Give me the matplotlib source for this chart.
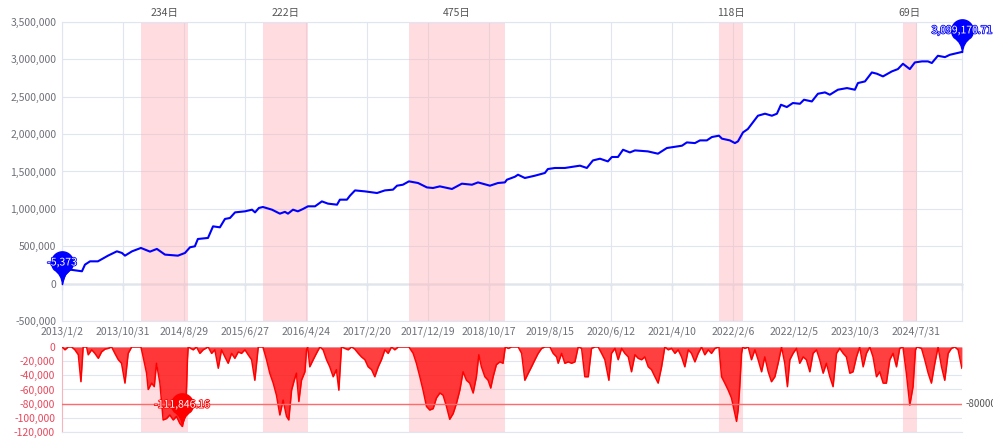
import matplotlib
matplotlib.use('Agg')
import matplotlib.pyplot as plt
import matplotlib.patheffects as pe
import numpy as np
import pandas as pd
from matplotlib.path import Path
from matplotlib.ticker import FuncFormatter

plt.rcParams['font.family'] = ['Noto Sans CJK SC', 'DejaVu Sans']

tick_labels = ['2013/1/2', '2013/10/31', '2014/8/29', '2015/6/27', '2016/4/24',
               '2017/2/20', '2017/12/19', '2018/10/17', '2019/8/15', '2020/6/12',
               '2021/4/10', '2022/2/6', '2022/12/5', '2023/10/3', '2024/7/31']
last_day = 4456

# equity curve (days since 2013/1/2)
equity_day = [0, 15, 40, 99, 114, 139, 178, 228, 272, 297, 312, 347, 391, 436, 470, 510,
              574, 609, 634, 658, 673, 723, 748, 782, 807, 832, 857, 906, 941, 956, 975,
              995, 1040, 1079, 1104, 1119, 1144, 1168, 1193, 1218, 1253, 1287, 1317, 1362,
              1376, 1411, 1426, 1451, 1500, 1560, 1599, 1639, 1659, 1688, 1718, 1763, 1807,
              1837, 1871, 1931, 1980, 2030, 2060, 2119, 2159, 2193, 2203, 2243, 2258, 2292,
              2342, 2391, 2406, 2441, 2490, 2565, 2599, 2629, 2664, 2703, 2723, 2753, 2778,
              2812, 2837, 2901, 2951, 2995, 3025, 3070, 3094, 3134, 3159, 3193, 3218, 3253,
              3268, 3307, 3332, 3347, 3372, 3396, 3421, 3446, 3481, 3515, 3540, 3560, 3589,
              3619, 3654, 3674, 3713, 3743, 3778, 3802, 3842, 3887, 3926, 3941, 3976, 4010,
              4035, 4065, 4109, 4139, 4164, 4198, 4223, 4258, 4288, 4307, 4337, 4372, 4396,
              4456]
equity_value = [-5373, 120000, 187000, 165000, 254000, 298000, 298000, 374000, 432000,
                410000, 374000, 432000, 477000, 428000, 464000, 388000, 374000, 410000,
                486000, 499000, 597000, 611000, 766000, 753000, 865000, 878000, 953000,
                967000, 989000, 953000, 1012000, 1025000, 989000, 936000, 960000, 936000,
                989000, 967000, 998000, 1034000, 1034000, 1100000, 1070000, 1056000,
                1123000, 1123000, 1176000, 1247000, 1234000, 1212000, 1247000, 1257000,
                1310000, 1323000, 1368000, 1346000, 1287000, 1279000, 1301000, 1266000,
                1337000, 1323000, 1354000, 1310000, 1346000, 1354000, 1390000, 1430000,
                1457000, 1413000, 1444000, 1480000, 1533000, 1547000, 1547000, 1578000,
                1547000, 1648000, 1671000, 1635000, 1694000, 1694000, 1791000, 1755000,
                1782000, 1769000, 1738000, 1814000, 1827000, 1845000, 1889000, 1880000,
                1916000, 1916000, 1961000, 1979000, 1939000, 1916000, 1880000, 1903000,
                2023000, 2068000, 2157000, 2246000, 2273000, 2246000, 2273000, 2393000,
                2362000, 2416000, 2406000, 2460000, 2437000, 2540000, 2558000, 2527000,
                2594000, 2616000, 2594000, 2683000, 2705000, 2825000, 2808000, 2772000,
                2839000, 2870000, 2941000, 2870000, 2959000, 2973000, 2973000, 2951000,
                3048000, 3030000, 3061000, 3099170.71]

# drawdown curve
dd_day = [1, 15, 31, 48, 64, 81, 94, 105, 122, 130, 147, 163, 180, 196, 213, 229, 246, 262,
          279, 295, 312, 328, 345, 369, 391, 402, 419, 427, 444, 457, 468, 485, 501, 518,
          534, 551, 567, 584, 595, 609, 617, 621, 625, 650, 666, 683, 699, 724, 741, 757,
          774, 790, 807, 823, 840, 856, 873, 889, 906, 922, 939, 955, 972, 995, 1013, 1029,
          1046, 1062, 1079, 1095, 1112, 1123, 1137, 1150, 1161, 1173, 1186, 1203, 1211,
          1217, 1227, 1244, 1260, 1277, 1293, 1310, 1326, 1343, 1359, 1371, 1384, 1401,
          1417, 1434, 1450, 1467, 1483, 1500, 1516, 1533, 1549, 1566, 1582, 1599, 1615,
          1632, 1648, 1665, 1718, 1739, 1755, 1772, 1788, 1805, 1821, 1838, 1854, 1871,
          1887, 1904, 1920, 1937, 1953, 1970, 1986, 2003, 2019, 2036, 2052, 2064, 2077,
          2094, 2110, 2123, 2135, 2151, 2168, 2184, 2190, 2195, 2210, 2226, 2259, 2276,
          2292, 2309, 2325, 2342, 2358, 2375, 2391, 2416, 2432, 2449, 2457, 2474, 2490,
          2507, 2523, 2540, 2556, 2573, 2589, 2606, 2622, 2639, 2655, 2672, 2688, 2708,
          2721, 2738, 2754, 2771, 2787, 2804, 2820, 2837, 2853, 2870, 2886, 2903, 2919,
          2936, 2952, 2969, 2985, 3002, 3018, 3035, 3051, 3068, 3084, 3101, 3117, 3134,
          3150, 3167, 3183, 3200, 3216, 3233, 3253, 3266, 3282, 3299, 3315, 3328, 3340,
          3348, 3356, 3365, 3371, 3381, 3398, 3414, 3431, 3447, 3464, 3480, 3497, 3513,
          3530, 3546, 3563, 3579, 3592, 3604, 3620, 3637, 3653, 3670, 3686, 3703, 3719,
          3736, 3752, 3769, 3785, 3802, 3818, 3835, 3851, 3868, 3884, 3901, 3917, 3934,
          3950, 3967, 3983, 4000, 4016, 4033, 4049, 4066, 4082, 4099, 4115, 4132, 4148,
          4164, 4181, 4198, 4214, 4226, 4233, 4256, 4272, 4289, 4305, 4322, 4338, 4355,
          4371, 4388, 4404, 4421, 4437, 4456]
dd_value = [0, -4000, 0, 0, -4000, -11000, -49000, 0, 0, -11000, -4000, -9000, -16000,
            -7000, -3000, -2000, 0, -9000, -18000, -23000, -51000, -9000, 0, 0, 0, -14000,
            -37000, -60000, -51000, -56000, -23000, -51000, -103000, -101000, -96000,
            -103000, -98000, -108000, -111846.16, -98000, -56000, -20000, 0, -4000, 0,
            -9000, -4000, 0, -9000, -4000, -30000, -4000, -14000, -23000, -9000, -16000,
            -7000, -9000, -4000, -11000, -18000, -47000, 0, 0, -18000, -37000, -51000,
            -68000, -96000, -75000, -98000, -103000, -61000, -47000, -37000, -77000,
            -47000, -35000, -4000, 0, -28000, -18000, -9000, 0, -4000, -18000, -28000,
            -42000, -32000, -61000, 0, -2000, -4000, 0, -3000, -9000, -14000, -18000,
            -28000, -32000, -42000, -28000, -18000, -4000, -9000, 0, -4000, 0, 0, -9000,
            -23000, -42000, -61000, -84000, -89000, -87000, -72000, -65000, -68000,
            -84000, -102000, -94000, -80000, -61000, -35000, -47000, -51000, -65000,
            -42000, -11000, -28000, -42000, -47000, -58000, -42000, -25000, -21000,
            -23000, -11000, 0, -2000, 0, 0, -9000, -47000, -37000, -28000, -18000, -9000,
            -2000, 0, 0, -9000, -14000, -23000, -9000, -23000, -21000, -23000, -21000, 0,
            -2000, -42000, -42000, -2000, 0, 0, -9000, -18000, -47000, -9000, -2000,
            -18000, -2000, -9000, -14000, -35000, -11000, -16000, -18000, -14000, -28000,
            -32000, -42000, -51000, -28000, 0, -4000, -2000, -9000, -4000, -14000, -28000,
            -4000, -9000, -21000, -9000, 0, -11000, -4000, -9000, -2000, 0, -42000,
            -51000, -61000, -72000, -89000, -105000, -89000, -56000, -9000, 0, -2000, 0,
            -18000, -4000, -18000, -35000, -14000, -35000, -49000, -42000, -23000, 0,
            -23000, -56000, -18000, -9000, -2000, -23000, -14000, -18000, -35000, -9000,
            -4000, -18000, -37000, -23000, -42000, -56000, -9000, -2000, -9000, -14000,
            -37000, -35000, -14000, 0, -28000, -9000, 0, -14000, -42000, -35000, -51000,
            -51000, -18000, -9000, -28000, -2000, 0, -37000, -82000, -56000, -4000, 0,
            -2000, -18000, -37000, -51000, -23000, 0, -28000, -47000, -9000, -2000, 0,
            -4000, -30000]

# drawdown periods: start day, length in days
period_start = [391, 995, 1718, 3253, 4164]
period_days = [234, 222, 475, 118, 69]
warn_level = -80000

GRID = '#e0e6f1'
LABEL = '#6e7079'
DD_LABEL = '#e8485c'


def pin_marker():
    a = np.deg2rad(np.linspace(-40, 220, 40))
    pts = [(np.cos(t), 2 + np.sin(t)) for t in a]
    verts = [(0, 0), (0.05, 0.9), pts[0]] + pts[1:] + [(-0.05, 0.9), (0, 0), (0, 0)]
    codes = ([Path.MOVETO, Path.CURVE3, Path.CURVE3] + [Path.LINETO] * (len(pts) - 1)
             + [Path.CURVE3, Path.CURVE3, Path.CLOSEPOLY])
    return Path(verts, codes)


def add_pin(ax, x, y, text, color):
    ax.plot([x], [y], marker=pin_marker(), markersize=47, color=color, ls='none',
            clip_on=False, zorder=6)
    ax.annotate(text, (x, y), xytext=(0, 15.5), textcoords='offset points',
                ha='center', va='center', fontsize=7.5, color='white', zorder=7,
                annotation_clip=False,
                path_effects=[pe.withStroke(linewidth=1.2, foreground=color)])


start = pd.to_datetime(tick_labels[0])
tick_pos = [(pd.to_datetime(t) - start).days for t in tick_labels]

fig = plt.figure(figsize=(9.93, 4.46), dpi=100)
ax = fig.add_axes([0.0624, 0.2803, 0.9063, 0.6704])
ax2 = fig.add_axes([0.0624, 0.0314, 0.9063, 0.1906])

# --- equity panel ---
ax.set_xlim(0, last_day)
ax.set_ylim(-500000, 3500000)
ax.set_yticks(np.arange(-500000, 3500001, 500000))
ax.yaxis.set_major_formatter(FuncFormatter(lambda v, p: f'{v:,.0f}'))
ax.set_xticks(tick_pos)
ax.set_xticklabels(tick_labels)
ax.grid(True, color=GRID, lw=0.8, zorder=0)
ax.set_axisbelow(True)
for s in ax.spines.values():
    s.set_color(GRID)
    s.set_linewidth(0.8)
ax.tick_params(length=0, labelsize=7.5, labelcolor=LABEL, pad=4)

zero_axis = ax.secondary_xaxis(0.125)
zero_axis.set_xticks(tick_pos + [last_day])
zero_axis.set_xticklabels([])
zero_axis.tick_params(direction='out', length=4, color=LABEL, width=0.8)
zero_axis.spines['bottom'].set_color(LABEL)
zero_axis.spines['bottom'].set_linewidth(0.9)

for st, n in zip(period_start, period_days):
    ax.axvspan(st, st + n, color='#ffb3ba', alpha=0.45, lw=0, zorder=1)
    ax.text(st + n / 2, 1.012, f'{n}日', transform=ax.get_xaxis_transform(),
            ha='center', va='bottom', fontsize=7.5, color='#555555')

ax.plot(equity_day, equity_value, color='#0000ff', lw=1.5, zorder=3)
add_pin(ax, equity_day[0], equity_value[0], f'{equity_value[0]:,.0f}', '#0000ff')
add_pin(ax, equity_day[-1], equity_value[-1], f'{equity_value[-1]:,.2f}', '#0000ff')

# --- drawdown panel ---
ax2.set_xlim(0, last_day)
ax2.set_ylim(-120000, 0)
ax2.set_yticks(np.arange(-120000, 1, 20000))
ax2.yaxis.set_major_formatter(FuncFormatter(lambda v, p: f'{v:,.0f}'))
ax2.set_xticks([])
ax2.grid(True, axis='y', color=GRID, lw=0.8, zorder=0)
ax2.set_axisbelow(True)
for k, s in ax2.spines.items():
    s.set_visible(k in ('left', 'bottom'))
    s.set_color(GRID)
    s.set_linewidth(0.8)
ax2.spines['left'].set_color('#f5b5bb')
ax2.tick_params(length=0, labelsize=7.5, labelcolor=DD_LABEL, pad=5)

for st, n in zip(period_start, period_days):
    ax2.axvspan(st, st + n, color='#ffb3ba', alpha=0.45, lw=0, zorder=1)

ax2.fill_between(dd_day, dd_value, 0, color='#ff0000', alpha=0.75, lw=0, zorder=2)
ax2.plot(dd_day, dd_value, color='#ff0000', lw=1.1, zorder=3)
ax2.axhline(warn_level, color='#ff6b6b', lw=1.0, zorder=4)
ax2.text(1.004, warn_level, str(warn_level), transform=ax2.get_yaxis_transform(),
         ha='left', va='center', fontsize=7, color='#555555')

i_min = int(np.argmin(dd_value))
add_pin(ax2, dd_day[i_min], dd_value[i_min], f'{dd_value[i_min]:,.2f}', '#ff0000')

fig.savefig('out.png', dpi=100)
